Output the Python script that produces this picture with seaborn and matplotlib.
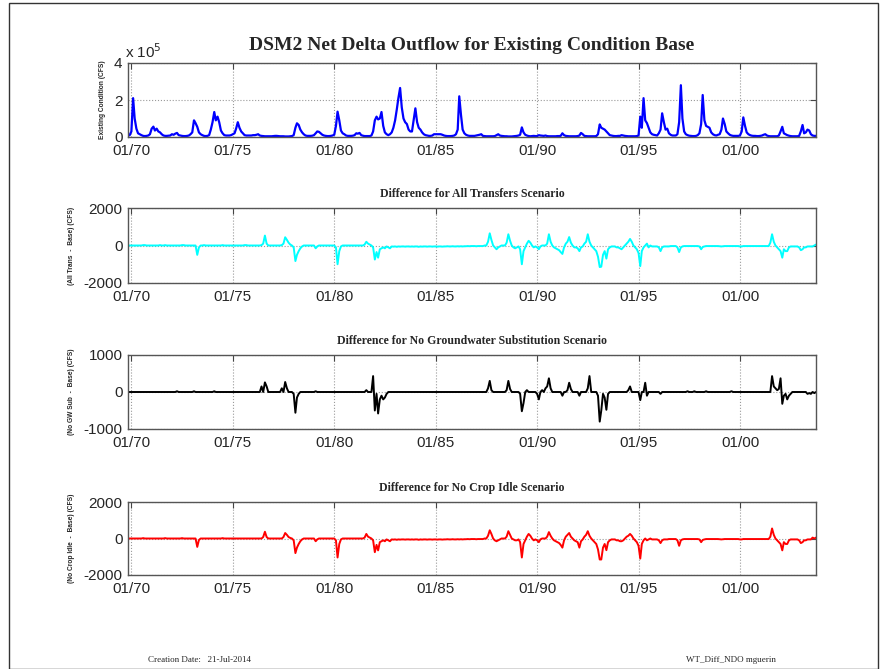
import numpy as np
import pandas as pd
import matplotlib
matplotlib.use("Agg")
import matplotlib.pyplot as plt
import matplotlib.dates as mdates
from matplotlib.ticker import FuncFormatter
from matplotlib.patches import Rectangle
import seaborn as sns

# Monthly values, one line per water year (Oct ... Sep), WY1970 - WY2003
# Existing condition net delta outflow, in 1000 CFS
base_kcfs = [
    8, 10, 30, 210, 100, 45, 20, 15, 10, 6, 5, 6,
    8, 15, 45, 56, 35, 45, 30, 25, 15, 8, 6, 6,
    7, 8, 15, 12, 18, 22, 10, 8, 6, 5, 5, 6,
    8, 15, 25, 90, 75, 55, 25, 15, 10, 6, 5, 6,
    10, 40, 80, 135, 90, 110, 80, 35, 20, 10, 8, 8,
    8, 10, 15, 20, 45, 80, 50, 30, 20, 10, 8, 8,
    8, 8, 10, 10, 12, 15, 8, 6, 5, 4, 4, 4,
    4, 4, 5, 6, 6, 5, 4, 4, 4, 3, 3, 3,
    4, 5, 10, 50, 74, 65, 40, 25, 15, 8, 6, 6,
    6, 7, 10, 20, 30, 28, 20, 12, 8, 6, 5, 5,
    6, 8, 12, 60, 137, 90, 35, 20, 15, 8, 6, 6,
    6, 7, 10, 20, 18, 22, 10, 7, 5, 5, 5, 5,
    8, 30, 90, 110, 95, 100, 135, 60, 25, 15, 10, 15,
    25, 50, 90, 150, 210, 265, 160, 100, 80, 70, 40, 30,
    30, 90, 155, 80, 50, 40, 25, 15, 10, 8, 6, 6,
    8, 15, 15, 15, 15, 15, 12, 8, 6, 5, 5, 5,
    6, 8, 15, 40, 220, 120, 40, 20, 12, 8, 6, 6,
    6, 6, 8, 10, 12, 15, 6, 5, 4, 4, 4, 4,
    4, 5, 10, 15, 8, 6, 5, 4, 4, 3, 3, 3,
    4, 5, 6, 8, 12, 52, 25, 12, 8, 5, 4, 5,
    6, 5, 5, 10, 8, 7, 6, 8, 5, 4, 4, 4,
    4, 4, 5, 5, 6, 20, 10, 6, 5, 4, 4, 4,
    4, 4, 5, 8, 22, 15, 6, 5, 4, 4, 4, 4,
    4, 5, 15, 68, 50, 45, 40, 30, 20, 10, 8, 6,
    5, 5, 6, 6, 10, 8, 6, 5, 4, 4, 4, 4,
    4, 5, 8, 110, 50, 210, 90, 75, 50, 25, 15, 12,
    10, 8, 20, 40, 128, 80, 40, 45, 20, 12, 8, 8,
    8, 15, 80, 280, 100, 30, 15, 10, 7, 6, 5, 5,
    6, 10, 20, 70, 227, 90, 60, 55, 50, 25, 15, 10,
    8, 12, 15, 40, 100, 70, 30, 20, 12, 8, 6, 6,
    6, 6, 8, 30, 106, 60, 25, 15, 10, 7, 6, 6,
    5, 5, 6, 8, 12, 15, 8, 5, 4, 4, 4, 4,
    4, 8, 30, 55, 20, 15, 10, 7, 5, 4, 4, 4,
    4, 6, 30, 65, 20, 25, 40, 35, 15, 8, 6, 6,
]

# All Transfers - Base (CFS)
all_trans = [
    0, 0, 0, 0, 0, 0, 0, 0, 0, 20, 20, 0,
    0, 0, 0, 0, 0, 0, 0, 20, 0, 0, 20, 0,
    0, 0, 0, 0, 0, 0, 0, 0, 20, 20, 0, 0,
    0, 0, 0, 0, 0, -500, -100, 0, 0, 20, 0, 0,
    0, 0, 0, 0, 0, 0, 0, 0, 20, 0, 0, 0,
    0, 0, 0, 0, 0, 0, 0, 0, 0, 20, 20, 0,
    0, 0, 0, 0, 0, 0, 0, 20, 100, 530, 100, 0,
    0, 0, 0, 0, 0, 0, 0, 20, 100, 440, 300, 150,
    50, 0, -100, -830, -500, -300, -150, -50, 0, 0, 0, 0,
    0, 0, 0, -150, -50, 0, 0, 0, 0, 0, 0, 0,
    0, 0, 0, -100, -1000, -300, -50, 0, 0, 0, 0, 0,
    0, 0, 0, 0, 0, 0, 0, 0, 50, 200, 100, 50,
    0, -100, -750, -350, -650, -200, -150, -100, -150, -50, -100, -150,
    -50, -60, -50, -70, -50, -60, -50, -50, -60, -50, -50, -60,
    -50, -60, -50, -50, -70, -50, -60, -50, -50, -60, -50, -50,
    -60, -50, -50, -60, -50, -50, -60, -50, -50, -40, -50, -50,
    -40, -50, -50, -40, -50, -40, -50, -40, -40, -30, -40, -30,
    -30, -30, -40, -30, -30, -30, -30, 0, 0, 200, 650, 300,
    0, -100, -200, -100, -50, 0, 0, 0, 150, 600, 250, 0,
    -100, -150, -100, -50, -200, -1000, -300, -100, 100, 250, 150, 0,
    -100, -50, -100, -200, -50, 0, 0, 0, 100, 600, 200, 0,
    -100, -150, -200, -250, -350, -450, -100, 100, 200, 450, 150, 0,
    -100, -100, -150, -300, -100, -50, 100, 200, 600, 200, 0, -100,
    -200, -300, -600, -1150, -1130, -500, -300, -700, -200, -100, -50, -50,
    -50, -100, -100, -150, -200, -100, 0, 100, 200, 350, 200, 0,
    -100, -200, -400, -1100, -300, -100, 0, 100, -100, 0, -50, -50,
    -50, -50, -100, -300, -100, -50, -50, -50, -50, -30, -30, -30,
    -30, -100, -350, -100, -50, -30, -30, -30, -30, -30, -30, -30,
    -30, -30, -50, -200, -80, -50, -30, -30, -30, -30, -30, -30,
    -30, -30, -40, -50, -40, -30, -30, -30, -30, -30, -30, -30,
    -30, -30, -50, -50, -30, -30, -30, -30, -30, -30, -30, -30,
    -30, -30, -30, -30, -30, -30, -30, -30, 150, 600, 200, 0,
    -100, -200, -300, -650, -200, -300, -300, -100, -50, -50, -50, -50,
    -50, -100, -250, -200, -100, -100, -50, -50, -50, -50, 0, 50,
]

# No GW Sub - Base (CFS)
no_gw_sub = [
    0, 0, 0, 0, 0, 0, 0, 0, 0, 0, 0, 0,
    0, 0, 0, 0, 0, 0, 0, 0, 0, 0, 0, 0,
    0, 0, 0, 0, 0, 20, 0, 0, 0, 0, 0, 0,
    0, 0, 0, 20, 0, 0, 0, 0, 0, 0, 0, 0,
    0, 0, 0, 20, 0, 0, 0, 0, 0, 0, 0, 0,
    0, 0, 0, 0, 0, 0, 0, 0, 0, 0, 0, 0,
    0, 0, 0, 0, 0, 0, 0, 150, 0, 260, 150, 0,
    0, 0, 0, 0, 0, 0, 0, 100, 0, 270, 100, 0,
    0, 0, -50, -560, -150, -50, 0, 0, 0, 0, 0, 0,
    0, 0, 0, 20, 0, 0, 0, 0, 0, 0, 0, 0,
    0, 0, 0, 0, 0, 0, 0, 0, 0, 0, 0, 0,
    0, 0, 0, 0, 0, 0, 0, 0, 0, 50, 0, 0,
    0, 430, -500, -50, -580, -200, -100, -200, -150, -50, 0, 0,
    0, 0, 0, 0, 0, 0, 0, 0, 0, 0, 0, 0,
    0, 0, 0, 0, 0, 0, 0, 0, 0, 0, 0, 0,
    0, 0, 0, 0, 0, 0, 0, 0, 0, 0, 0, 0,
    0, 0, 0, 0, 0, 0, 0, 0, 0, 0, 0, 0,
    0, 0, 0, 0, 0, 0, 0, 0, 0, 100, 300, 50,
    0, 0, 0, 0, 0, 0, 0, 0, 50, 300, 80, 0,
    0, 0, 0, 0, -50, -520, -300, 0, 50, 0, 0, 0,
    0, 0, -50, -200, 0, 50, 0, 100, 150, 370, 100, 0,
    0, 0, 0, 0, 0, -100, 0, 0, 50, 250, 80, 0,
    0, 0, 0, -100, 0, 0, 0, 0, 100, 430, 0, 0,
    0, 0, -100, -800, -500, -50, -150, -480, -50, 0, 0, 0,
    0, 0, 0, 0, 0, 0, 0, 0, 50, 150, 0, 0,
    0, 0, 0, -220, 0, 0, 250, -100, 0, 0, 0, 0,
    0, 0, 0, -50, 0, 0, 0, 0, 0, 0, 0, 0,
    0, 0, 0, 0, 0, 0, 0, 20, 0, 0, 0, 20,
    0, 0, 0, 0, 0, 0, 20, 0, 0, 0, 0, 0,
    0, 0, 0, 0, 0, 0, 0, 0, 0, 20, 0, 0,
    0, 0, 0, 0, 0, 0, 0, 0, 0, 0, 0, 0,
    0, 0, 0, 0, 0, 0, 0, 0, 0, 430, 150, 100,
    50, 80, 370, -320, -100, -50, -200, -100, -50, 0, 0, 0,
    0, 0, 0, 0, 0, 0, -50, -30, -50, 0, -30, 0,
]

# No Crop Idle - Base (CFS)
no_crop_idle = [
    0, 0, 0, 0, 0, 0, 0, 0, 0, 20, 0, 0,
    0, 0, 0, 0, 0, 0, 0, 0, 0, 0, 20, 0,
    0, 0, 0, 0, 0, 0, 0, 0, 20, 0, 0, 0,
    0, 0, 0, 0, 0, -460, -80, 0, 0, 0, 0, 0,
    0, 0, 0, 0, 0, 0, 0, 0, 20, 0, 0, 0,
    0, 0, 0, 0, 0, 0, 0, 0, 0, 0, 0, 0,
    0, 0, 0, 0, 0, 0, 0, 0, 80, 370, 80, 0,
    0, 0, 0, 0, 0, 0, 0, 0, 80, 300, 200, 80,
    30, 0, -100, -800, -500, -300, -150, -50, 0, 0, 0, 0,
    0, 0, 0, -150, -50, 0, 0, 0, 0, 0, 0, 0,
    0, 0, 0, -100, -1040, -300, -50, 0, 0, 0, 0, 0,
    0, 0, 0, 0, 0, 0, 0, 0, 50, 250, 100, 50,
    0, -100, -750, -350, -650, -200, -150, -100, -150, -50, -100, -150,
    -50, -60, -50, -70, -50, -60, -50, -50, -60, -50, -50, -60,
    -50, -60, -50, -50, -70, -50, -60, -50, -50, -60, -50, -50,
    -60, -50, -50, -60, -50, -50, -60, -50, -50, -40, -50, -50,
    -40, -50, -50, -40, -50, -40, -50, -40, -40, -30, -40, -30,
    -30, -30, -40, -30, -30, -30, -30, 0, 0, 150, 450, 250,
    0, -100, -150, -100, -50, 0, 0, 0, 100, 400, 200, 0,
    -50, -100, -100, -50, -200, -1040, -300, -100, 100, 250, 150, 0,
    -100, -50, -100, -200, -50, 0, 0, 0, 100, 350, 150, 0,
    -100, -150, -200, -250, -350, -500, -100, 100, 200, 300, 100, 0,
    -100, -150, -200, -500, -150, -50, 100, 200, 400, 150, 0, -100,
    -200, -300, -600, -1150, -1150, -500, -300, -640, -200, -100, -50, -50,
    -50, -100, -100, -150, -150, -100, 0, 100, 150, 250, 150, 0,
    -100, -200, -400, -1100, -300, -100, 0, -100, -50, 0, -50, -50,
    -50, -50, -100, -250, -100, -50, -50, -50, -30, -30, -30, -30,
    -30, -100, -400, -100, -50, -30, -30, -30, -30, -30, -30, -30,
    -30, -30, -50, -200, -80, -50, -30, -30, -30, -30, -30, -30,
    -30, -30, -40, -50, -40, -30, -30, -30, -30, -30, -30, -30,
    -30, -30, -50, -50, -30, -30, -30, -30, -30, -30, -30, -30,
    -30, -30, -30, -30, -30, -30, -30, -30, 100, 550, 200, 0,
    -100, -200, -300, -650, -200, -300, -300, -100, -50, -50, -50, -50,
    -50, -100, -250, -200, -100, -100, -50, -50, -50, 50, 0, 50,
]

months = pd.date_range("1969-10-31", "2003-09-30", freq="ME")
tick_years = [1970, 1975, 1980, 1985, 1990, 1995, 2000]

main_title = "DSM2 Net Delta Outflow for Existing Condition Base"
panel_titles = ["",
                "Difference for All Transfers Scenario",
                "Difference for No Groundwater Substitution Scenario",
                "Difference for No Crop Idle Scenario"]
panel_ylabels = ["Existing Condition (CFS)",
                 "(All Trans  -  Base) (CFS)",
                 "(No GW Sub  -  Base) (CFS)",
                 "(No Crop Idle  -  Base) (CFS)"]
panel_colors = ["#0000ff", "#00ffff", "#000000", "#ff0000"]
panel_ylims = [(0, 4e5), (-2000, 2000), (-1000, 1000), (-2000, 2000)]

sns.set_style("white")
plt.rcParams["font.family"] = ["Liberation Sans", "DejaVu Sans"]
plt.rcParams["axes.unicode_minus"] = False

df = pd.DataFrame({
    "date": months,
    "base": np.array(base_kcfs) * 1000.0,
    "all_trans": all_trans,
    "no_gw_sub": no_gw_sub,
    "no_crop_idle": no_crop_idle,
})
cols = ["base", "all_trans", "no_gw_sub", "no_crop_idle"]

fig = plt.figure(figsize=(8.9, 6.69), dpi=100)
W, H = 890, 669
# axes boxes in pixels: left, top, right, bottom
boxes = [(128, 63, 816, 137), (128, 208, 816, 283),
         (128, 355, 816, 429), (128, 502, 816, 575)]

for i, col in enumerate(cols):
    l, t, r, b = boxes[i]
    ax = fig.add_axes([l / W, 1 - b / H, (r - l) / W, (b - t) / H])
    sns.lineplot(data=df, x="date", y=col, ax=ax, color=panel_colors[i],
                 linewidth=1.6 if i == 0 else 1.4)
    ax.set_xlim(months[0], months[-1])
    ax.set_ylim(*panel_ylims[i])
    lo, hi = panel_ylims[i]
    ax.set_yticks([lo, (lo + hi) / 2, hi])
    ax.set_xticks([pd.Timestamp(f"{y}-01-01") for y in tick_years])
    ax.xaxis.set_major_formatter(mdates.DateFormatter("%m/%y"))
    if i == 0:
        ax.yaxis.set_major_formatter(FuncFormatter(lambda v, p: f"{v / 1e5:g}"))
        ax.text(-0.005, 1.03, r"x 10$^5$", transform=ax.transAxes,
                fontsize=11, ha="left", va="bottom")
    ax.grid(True, linestyle=":", color="#9a9a9a", linewidth=0.8)
    ax.tick_params(direction="in", length=4, top=True, right=True,
                   labelsize=11, color="#444444")
    ax.tick_params(axis="x", pad=5)
    ax.tick_params(axis="y", pad=4)
    for s in ax.spines.values():
        s.set_color("#555555")
        s.set_linewidth(1.0)
    ax.set_xlabel("")
    ax.set_ylabel(panel_ylabels[i], fontsize=4.8, fontweight="bold", labelpad=6)
    if panel_titles[i]:
        ax.set_title(panel_titles[i], fontsize=8.5, fontweight="bold",
                     family="Liberation Serif", pad=8)

fig.text(472 / W, 1 - 45 / H, main_title, ha="center", va="center",
         fontsize=14, fontweight="bold", family="Liberation Serif")
fig.text(148 / W, 1 - 660 / H, "Creation Date:   21-Jul-2014", ha="left",
         va="center", fontsize=6.5, family="Liberation Serif")
fig.text(686 / W, 1 - 660 / H, "WT_Diff_NDO mguerin", ha="left",
         va="center", fontsize=6.5, family="Liberation Serif")

fig.patches.append(Rectangle((9 / W, 0.5 / H), 869 / W, 1 - 3 / H,
                             transform=fig.transFigure, fill=False,
                             edgecolor="#333333", linewidth=1.0))

fig.savefig("out.png", dpi=100, facecolor="white")
